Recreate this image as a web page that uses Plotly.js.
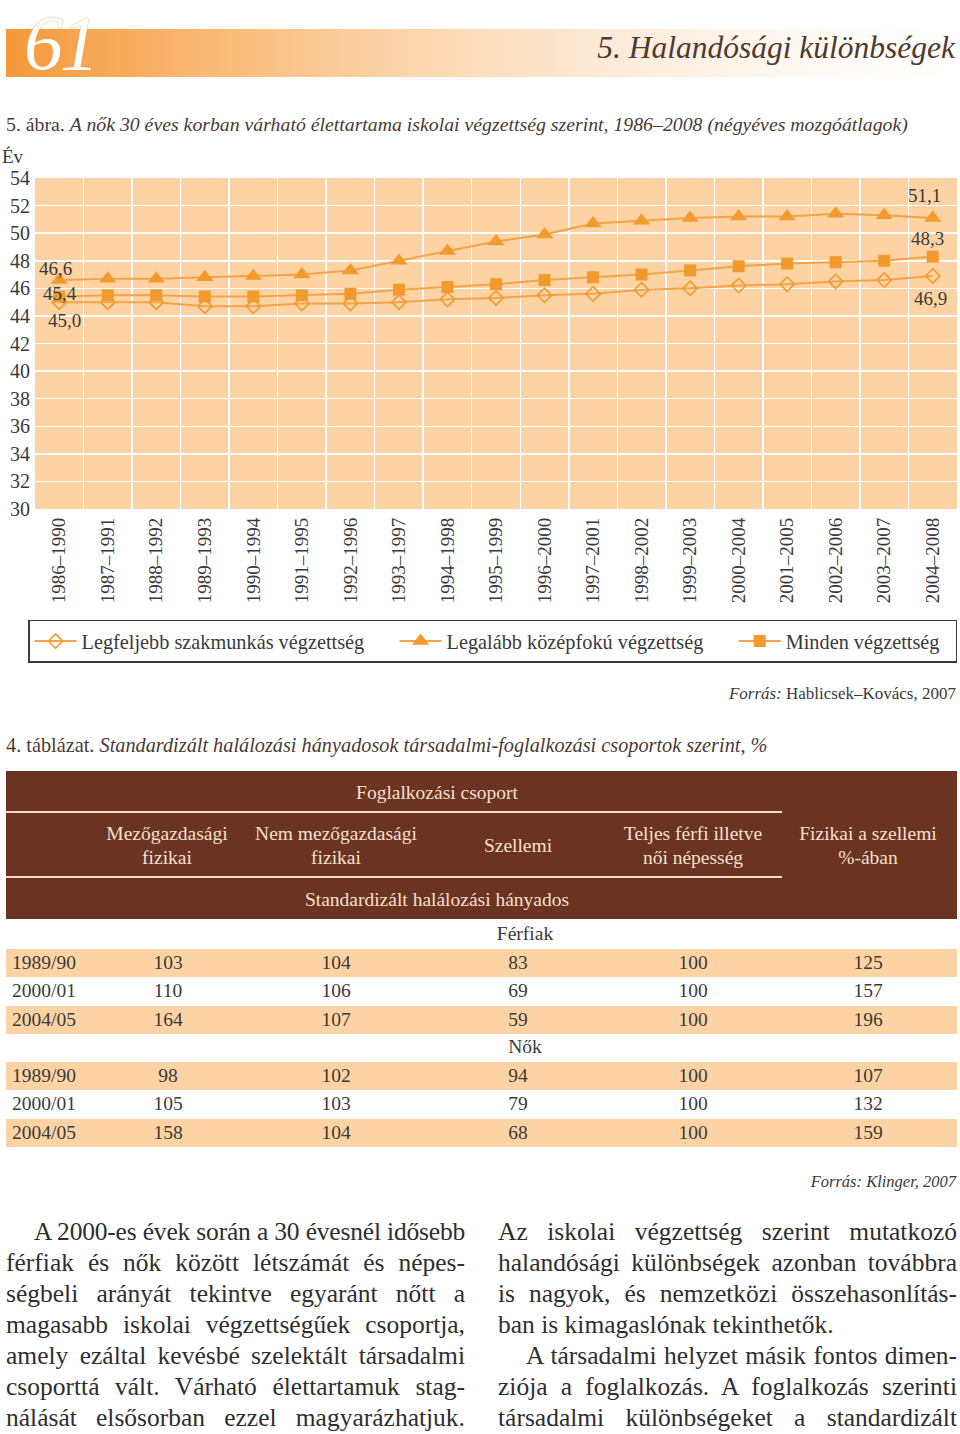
<!DOCTYPE html>
<html>
<head>
<meta charset="utf-8">
<script src="https://cdn.plot.ly/plotly-3.0.1.min.js"></script>
<style>
  html, body { margin:0; padding:0; background:#fff; }
  body { width:960px; height:1434px; position:relative; overflow:hidden; font-family:"Liberation Serif", "DejaVu Serif", serif; color:#3a3a3a; }
  .abs { position:absolute; }
  #bar { left:6px; top:29px; width:951px; height:48px; background:linear-gradient(to right, #f5993a 0%, #f8b46c 18%, #fbd3a8 40%, #fde9d6 62%, #fff8f1 82%, #ffffff 100%); }
  #pnum { left:24px; top:4px; font-size:78px; line-height:78px; font-style:italic; color:#fff; letter-spacing:-3px; text-shadow: 0 0 1px #f0a050, 0 0 1px #f0a050; }
  #ptitle { right:5px; top:30px; font-size:31.5px; font-style:italic; color:#4e3a30; }
  #cap { left:6px; top:113px; font-size:19.8px; color:#4a3b33; white-space:nowrap; }
  #cap i, #ttitle i { font-style:italic; }
  #src1 { right:4px; top:684px; font-size:17px; color:#3a3a3a; }
  #ttitle { left:6px; top:734px; font-size:20.3px; color:#4a3b33; white-space:nowrap; }
  #thead { left:6px; top:771px; width:951px; height:148px; background:#6a3322; }
  .hl { position:absolute; height:2px; background:#f3dcc8; }
  .ht { position:absolute; color:#f6e0cc; font-size:19.5px; text-align:center; line-height:24px; white-space:nowrap; transform:translateX(-50%); }
  .row { position:absolute; left:6px; width:951px; height:28px; }
  .cell { position:absolute; font-size:19.5px; line-height:28px; color:#3a3a3a; white-space:nowrap; }
  .grp { position:absolute; font-size:19.5px; line-height:26px; color:#3a3a3a; transform:translateX(-50%); }
  #src2 { right:4px; top:1172px; font-size:16.5px; font-style:italic; color:#3a3a3a; }
  .col { position:absolute; width:459px; font-size:25.5px; line-height:31px; color:#2e2e2e; }
  .ln { display:block; text-align:justify; text-align-last:justify; white-space:nowrap; height:31px; }
  .ln.last { text-align-last:left; }
  .ln.ind { text-indent:28px; }
  #chart { left:0; top:140px; width:960px; height:530px; }
</style>
</head>
<body>
<div id="bar" class="abs"></div>
<div id="pnum" class="abs">61</div>
<div id="ptitle" class="abs">5. Halandósági különbségek</div>
<div id="cap" class="abs">5. ábra. <i>A nők 30 éves korban várható élettartama iskolai végzettség szerint, 1986–2008 (négyéves mozgóátlagok)</i></div>
<div id="chart" class="abs"></div>
<div id="src1" class="abs"><i>Forrás:</i> Hablicsek–Kovács, 2007</div>
<div id="ttitle" class="abs">4. táblázat. <i>Standardizált halálozási hányadosok társadalmi-foglalkozási csoportok szerint, %</i></div>
<div id="thead" class="abs"></div>
<div id="tbody" class="abs" style="left:0;top:0;"></div>
<div id="src2" class="abs">Forrás: Klinger, 2007</div>
<div id="colL" class="col" style="left:6px; top:1216px;"></div>
<div id="colR" class="col" style="left:498px; top:1216px;"></div>

<script>
// ---------- Chart data ----------
var periods = ["1986–1990","1987–1991","1988–1992","1989–1993","1990–1994","1991–1995","1992–1996","1993–1997","1994–1998","1995–1999","1996–2000","1997–2001","1998–2002","1999–2003","2000–2004","2001–2005","2002–2006","2003–2007","2004–2008"];
var szakmunkas = [45.0,45.0,45.0,44.7,44.7,44.9,44.9,45.0,45.2,45.3,45.5,45.6,45.9,46.0,46.2,46.3,46.5,46.6,46.9];
var kozepfoku  = [46.6,46.7,46.7,46.8,46.9,47.0,47.3,48.0,48.7,49.4,49.9,50.7,50.9,51.1,51.2,51.2,51.4,51.3,51.1];
var minden     = [45.4,45.5,45.5,45.4,45.4,45.5,45.6,45.9,46.1,46.3,46.6,46.8,47.0,47.3,47.6,47.8,47.9,48.0,48.3];
var seriesNames = ["Legfeljebb szakmunkás végzettség","Legalább középfokú végzettség","Minden végzettség"];
var yTicks = [30,32,34,36,38,40,42,44,46,48,50,52,54];

// ---------- Table data ----------
var tableHeaders = ["Mezőgazdasági<br>fizikai","Nem mezőgazdasági<br>fizikai","Szellemi","Teljes férfi illetve<br>női népesség","Fizikai a szellemi<br>%-ában"];
var groupTitle = "Foglalkozási csoport";
var measureTitle = "Standardizált halálozási hányados";
var groups = ["Férfiak","Nők"];
var rowLabels = ["1989/90","2000/01","2004/05"];
var ferfiMezo = [103,110,164];
var ferfiNem  = [104,106,107];
var ferfiSzel = [83,69,59];
var ferfiTelj = [100,100,100];
var ferfiFiz  = [125,157,196];
var noMezo = [98,105,158];
var noNem  = [102,103,104];
var noSzel = [94,79,68];
var noTelj = [100,100,100];
var noFiz  = [107,132,159];

// ---------- Text ----------
var leftLines = ["A 2000-es évek során a 30 évesnél idősebb","férfiak és nők között létszámát és népes-","ségbeli arányát tekintve egyaránt nőtt a","magasabb iskolai végzettségűek csoportja,","amely ezáltal kevésbé szelektált társadalmi","csoporttá vált. Várható élettartamuk stag-","nálását elsősorban ezzel magyarázhatjuk."];
var rightLines = ["Az iskolai végzettség szerint mutatkozó","halandósági különbségek azonban továbbra","is nagyok, és nemzetközi összehasonlítás-","ban is kimagaslónak tekinthetők.","A társadalmi helyzet másik fontos dimen-","ziója a foglalkozás. A foglalkozás szerinti","társadalmi különbségeket a standardizált"];

function fmt(v){ return v.toFixed(1).replace('.', ','); }

var lineCol = '#f3a449', mkCol = '#f39a2e';
var FONT = "Liberation Serif, DejaVu Serif, serif";
var NB = '\u00a0';
var legendPad = [NB+NB+NB+NB+NB, NB+NB+NB+NB+NB, NB+NB];
var traces = [
  {x: periods, y: szakmunkas, name: seriesNames[0] + legendPad[0], mode:'lines+markers', type:'scatter',
   line:{color:lineCol, width:2}, marker:{symbol:'diamond-open', size:11, color:mkCol, line:{width:1.6, color:mkCol}}},
  {x: periods, y: kozepfoku, name: seriesNames[1] + legendPad[1], mode:'lines+markers', type:'scatter',
   line:{color:lineCol, width:2}, marker:{symbol:'triangle-up', size:15, color:mkCol}},
  {x: periods, y: minden, name: seriesNames[2] + legendPad[2], mode:'lines+markers', type:'scatter',
   line:{color:lineCol, width:2}, marker:{symbol:'square', size:12, color:mkCol}}
];

var n = periods.length - 1;
function lab(xi, yv, dx, dy){
  return {x: periods[xi], y: yv, xref:'x', yref:'y', text: fmt(yv), showarrow:false, xshift:dx, yshift:dy,
          font:{family:FONT, size:19, color:'#3a3a3a'}};
}
var annotations = [
  lab(0, kozepfoku[0], -4, 12),
  lab(0, minden[0], 1, 3),
  lab(0, szakmunkas[0], 5, -18),
  lab(n, kozepfoku[n], -8, 23),
  lab(n, minden[n], -5, 18),
  lab(n, szakmunkas[n], -2, -23),
  {xref:'paper', yref:'paper', x:-35/922, y:1.0, xanchor:'left', yanchor:'bottom', yshift:9, text:'Év', showarrow:false,
   font:{family:FONT, size:19, color:'#3a3a3a'}}
];

var layout = {
  width:960, height:530,
  margin:{l:35, r:3, t:38, b:161},
  paper_bgcolor:'rgba(0,0,0,0)',
  plot_bgcolor:'#fdd3a3',
  font:{family:FONT, size:19, color:'#3a3a3a'},
  showlegend:true,
  legend:{orientation:'h', x:-7/922, xanchor:'left', y:-0.335, yanchor:'top',
          bordercolor:'#3a3a3a', borderwidth:1.5, bgcolor:'#ffffff',
          font:{family:FONT, size:20.3, color:'#3a3a3a'}, itemwidth:42, tracegroupgap:0},
  xaxis:{type:'category', range:[-0.5, n+0.5], tickson:'boundaries', showgrid:true, gridcolor:'#ffffff', gridwidth:1.5,
         tickangle:-90, ticks:'', ticklabelstandoff:4, tickfont:{family:FONT, size:19, color:'#3a3a3a'},
         showline:false, zeroline:false, fixedrange:true},
  yaxis:{range:[30,54], tickvals:yTicks, ticktext:yTicks.map(String), showgrid:true, gridcolor:'#ffffff', gridwidth:1.5,
         ticks:'', ticklabelstandoff:4, tickfont:{family:FONT, size:20, color:'#3a3a3a'},
         showline:false, zeroline:false, fixedrange:true},
  annotations: annotations
};
Plotly.newPlot('chart', traces, layout, {staticPlot:true, displayModeBar:false});

// ---------- Build table ----------
(function(){
  var th = document.getElementById('thead');
  var colCenters = [161, 330, 512, 687, 862]; // relative to thead left (6px)
  function addDiv(parent, cls, style, html){ var d=document.createElement('div'); d.className=cls; d.setAttribute('style', style); d.innerHTML=html; parent.appendChild(d); return d; }
  addDiv(th, 'ht', 'left:431px; top:10px;', groupTitle);
  addDiv(th, 'hl', 'left:0; top:40px; width:776px;', '');
  tableHeaders.forEach(function(h, i){
    var single = h.indexOf('<br>') < 0;
    addDiv(th, 'ht', 'left:'+colCenters[i]+'px; top:'+(single?63:51)+'px;', h);
  });
  addDiv(th, 'hl', 'left:0; top:105px; width:776px;', '');
  addDiv(th, 'ht', 'left:431px; top:117px;', measureTitle);

  var body = document.getElementById('tbody');
  var data = [[ferfiMezo, ferfiNem, ferfiSzel, ferfiTelj, ferfiFiz],[noMezo, noNem, noSzel, noTelj, noFiz]];
  var groupTops = [921, 1034];
  var valCenters = [168, 336, 518, 693, 868];
  groups.forEach(function(g, gi){
    var top = groupTops[gi];
    addDiv(body, 'grp', 'left:525px; top:'+(top)+'px;', g);
    rowLabels.forEach(function(r, ri){
      var rt = top + 28 + ri*28.3;
      var bg = (ri % 2 === 0) ? '#fdd3a3' : '#ffffff';
      addDiv(body, 'row', 'top:'+rt+'px; background:'+bg+';', '');
      addDiv(body, 'cell', 'left:12px; top:'+rt+'px;', r);
      data[gi].forEach(function(arr, ci){
        addDiv(body, 'cell', 'left:'+valCenters[ci]+'px; top:'+rt+'px; transform:translateX(-50%);', String(arr[ri]));
      });
    });
  });
})();

// ---------- Text columns ----------
(function(){
  function fill(id, lines, indents, lasts){
    var el = document.getElementById(id);
    lines.forEach(function(t, i){
      var s = document.createElement('span');
      s.className = 'ln' + (indents.indexOf(i)>=0 ? ' ind' : '') + (lasts.indexOf(i)>=0 ? ' last' : '');
      var inner = document.createElement('span');
      inner.textContent = t;
      s.appendChild(inner);
      el.appendChild(s);
      // tighten letter spacing for any line that would overflow the column
      var avail = 459 - (indents.indexOf(i)>=0 ? 28 : 0);
      var ls = 0;
      while (inner.getBoundingClientRect().width > avail && ls > -1.5) {
        ls -= 0.1; s.style.letterSpacing = ls.toFixed(2) + 'px';
      }
    });
  }
  fill('colL', leftLines, [0], []);
  fill('colR', rightLines, [4], [3]);
})();
</script>
</body>
</html>
